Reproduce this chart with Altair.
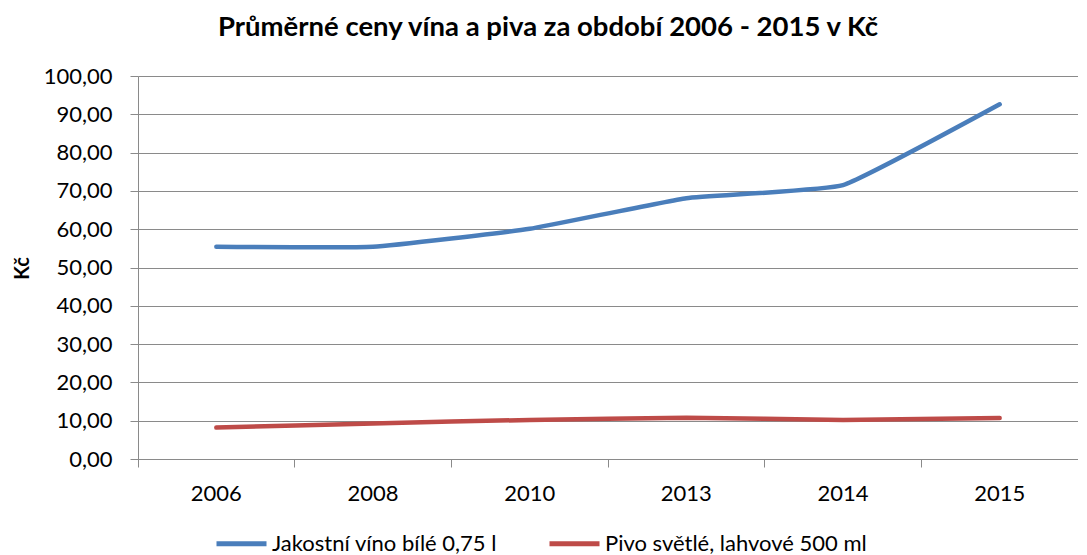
import altair as alt
import pandas as pd

years = ["2006", "2008", "2010", "2013", "2014", "2015"]
wine = [55.4, 55.4, 60.1, 68.1, 71.5, 92.6]
beer = [8.2, 9.3, 10.2, 10.8, 10.2, 10.7]
series_names = ["Jakostní víno bílé 0,75 l", "Pivo světlé, lahvové 500 ml"]
colors = ["#4A7EBB", "#BE4B48"]
y_ticks = [0, 10, 20, 30, 40, 50, 60, 70, 80, 90, 100]

rows = []
for i, y in enumerate(years):
    rows.append({"rok": y, "serie": series_names[0], "cena": wine[i]})
    rows.append({"rok": y, "serie": series_names[1], "cena": beer[i]})
df = pd.DataFrame(rows)

FONT = "Lato"
GRID = "#8a8a8a"

x_scale = alt.Scale(type="band", paddingInner=0, paddingOuter=0)

y_enc = alt.Y(
    "cena:Q",
    scale=alt.Scale(domain=[0, 100], nice=False),
    axis=alt.Axis(
        values=y_ticks,
        labelExpr="replace(format(datum.value, '.2f'), '.', ',')",
        title="Kč",
        titleFont=FONT,
        titleFontSize=20,
        titleFontWeight="bold",
        titleAngle=270,
        titleX=-116,
        titleY=192,
        titleAlign="center",
        titleBaseline="middle",
        labelFont=FONT,
        labelFontSize=22,
        labelColor="#000000",
        labelPadding=18,
        tickSize=8,
        tickColor=GRID,
        domainColor=GRID,
        gridColor=GRID,
        gridWidth=1.2,
        grid=True,
    ),
)

color_enc = alt.Color(
    "serie:N",
    sort=series_names,
    scale=alt.Scale(domain=series_names, range=colors),
    legend=alt.Legend(
        title=None,
        orient="none",
        direction="horizontal",
        legendX=76,
        legendY=440,
        symbolType="stroke",
        symbolSize=2500,
        symbolStrokeWidth=5,
        labelFont=FONT,
        labelFontSize=22,
        labelColor="#000000",
        labelOffset=3,
        columnPadding=42,
        labelLimit=400,
    ),
)

lines = alt.Chart(df).mark_line(strokeWidth=4.5, interpolate="cardinal", tension=0.65, strokeCap="round").encode(
    x=alt.X(
        "rok:O",
        sort=years,
        scale=x_scale,
        axis=alt.Axis(
            orient="bottom",
            title=None,
            labelAngle=0,
            labelFont=FONT,
            labelFontSize=22,
            labelColor="#000000",
            labelPadding=24,
            ticks=False,
            domainColor=GRID,
            grid=False,
        ),
    ),
    y=y_enc,
    color=color_enc,
)

ticks_layer = alt.Chart(df).mark_line(opacity=0).encode(
    x=alt.X(
        "rok:O",
        sort=years,
        scale=x_scale,
        axis=alt.Axis(
            orient="bottom",
            title=None,
            labels=False,
            bandPosition=0,
            ticks=True,
            tickSize=8,
            tickColor=GRID,
            domain=False,
            grid=False,
        ),
    ),
    y=y_enc,
    detail="serie:N",
)

chart = (
    alt.layer(lines, ticks_layer)
    .resolve_axis(x="independent")
    .properties(
        width=940,
        height=383,
        autosize=alt.AutoSizeParams(type="none"),
        padding={"left": 130, "top": 68, "right": 0, "bottom": 96},
        title=alt.TitleParams(
            "Průměrné ceny vína a piva za období 2006 - 2015 v Kč",
            font=FONT,
            fontSize=27.5,
            fontWeight="bold",
            color="#000000",
            anchor="middle",
            dx=-60,
            offset=24,
        ),
    )
    .configure_view(stroke=None)
    .configure(background="white")
)

chart.save("out.html", embed_options={"renderer": "svg", "actions": False})
